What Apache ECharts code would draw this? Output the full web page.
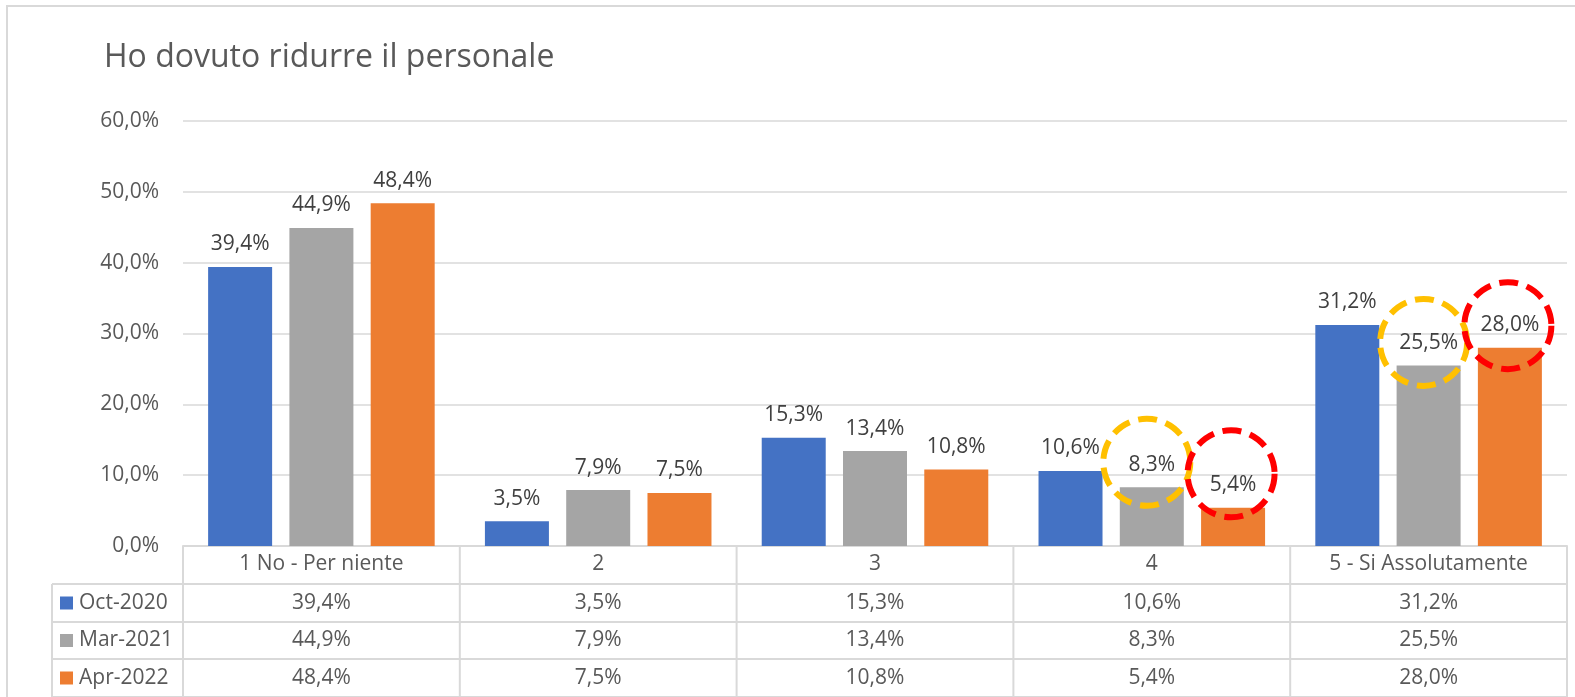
<!DOCTYPE html>
<html><head><meta charset="utf-8">
<script src="https://cdn.jsdelivr.net/npm/echarts@6/dist/echarts.min.js"></script>
<style>html,body{margin:0;padding:0;background:#fff}#c{width:1575px;height:697px}</style>
</head><body><div id="c"></div>
<script>
// ---- data ----
const titleText = 'Ho dovuto ridurre il personale';
const categories = ['1 No - Per niente', '2', '3', '4', '5 - Si Assolutamente'];
const seriesNames = ['Oct-2020', 'Mar-2021', 'Apr-2022'];
const oct2020 = [39.4, 3.5, 15.3, 10.6, 31.2];
const mar2021 = [44.9, 7.9, 13.4, 8.3, 25.5];
const apr2022 = [48.4, 7.5, 10.8, 5.4, 28.0];
const yTickValues = [0, 10, 20, 30, 40, 50, 60];
const yellowHighlight = [3, 4]; // category indices circled on Mar-2021
const redHighlight = [3, 4];    // category indices circled on Apr-2022

// ---- styling / layout ----
const colors = ['#4472C4', '#A5A5A5', '#ED7D31'];
const FONT = 'Open Sans';
const TXT = '#595959';
const LINE = '#d9d9d9';
const gridL = 183, gridR = 1567, axisY = 546, gridTop = 121;
const rowEdges = [546, 584, 622, 659, 697];
const tableLeft = 52;
const yellowOffsets = [[-5, -25], [-5, -23]];
const redOffsets = [[-2, -34], [-2, -22]];

const allSeries = [oct2020, mar2021, apr2022];
const fmt = v => v.toFixed(1).replace('.', ',') + '%';

const chart = echarts.init(document.getElementById('c'), null, {renderer: 'canvas'});

function circleMarks(vals, idxs, offs, color) {
  return {
    symbol: 'circle',
    symbolSize: 87,
    silent: true,
    label: {show: false},
    itemStyle: {color: 'rgba(0,0,0,0)', borderColor: color, borderWidth: 6, borderType: [19, 9]},
    data: idxs.map((i, k) => ({coord: [i, vals[i]], symbolOffset: offs[k]}))
  };
}

const series = seriesNames.map((name, s) => {
  const o = {
    name,
    type: 'bar',
    data: allSeries[s],
    barWidth: 64,
    barGap: '27%',
    itemStyle: {color: colors[s]},
    label: {
      show: true, position: 'top', distance: 12,
      formatter: p => fmt(p.value),
      color: '#404040', fontSize: 21, fontFamily: FONT
    }
  };
  if (s === 1) o.markPoint = circleMarks(mar2021, yellowHighlight, yellowOffsets, '#FFC000');
  if (s === 2) o.markPoint = circleMarks(apr2022, redHighlight, redOffsets, '#FF0000');
  return o;
});

// ---- data table (built from arrays) ----
const graphics = [];
const colW = (gridR - gridL) / categories.length;
// outer chart border
graphics.push({type: 'rect', shape: {x: 7, y: 6, width: 1600, height: 720}, style: {fill: 'none', stroke: LINE, lineWidth: 2}, silent: true});
// horizontal row lines
for (let r = 1; r < rowEdges.length; r++) {
  graphics.push({type: 'line', shape: {x1: tableLeft, y1: rowEdges[r], x2: gridR, y2: rowEdges[r]}, style: {stroke: LINE, lineWidth: 2}, silent: true});
}
// vertical lines for category columns
for (let c = 0; c <= categories.length; c++) {
  const x = gridL + c * colW;
  graphics.push({type: 'line', shape: {x1: x, y1: axisY, x2: x, y2: 700}, style: {stroke: LINE, lineWidth: 2}, silent: true});
}
// legend column left border
graphics.push({type: 'line', shape: {x1: tableLeft, y1: rowEdges[1], x2: tableLeft, y2: 700}, style: {stroke: LINE, lineWidth: 2}, silent: true});
// rows
seriesNames.forEach((name, s) => {
  const yc = (rowEdges[s + 1] + rowEdges[s + 2]) / 2;
  graphics.push({type: 'rect', shape: {x: 60, y: yc - 6.5, width: 13, height: 13}, style: {fill: colors[s]}, silent: true});
  graphics.push({type: 'text', x: 79, y: yc, style: {text: name, align: 'left', verticalAlign: 'middle', fontSize: 21, fontFamily: FONT, fill: TXT}, silent: true});
  allSeries[s].forEach((v, c) => {
    graphics.push({type: 'text', x: gridL + (c + 0.5) * colW, y: yc, style: {text: fmt(v), align: 'center', verticalAlign: 'middle', fontSize: 21, fontFamily: FONT, fill: TXT}, silent: true});
  });
});

chart.setOption({
  backgroundColor: '#fff',
  animation: false,
  title: {
    text: titleText, left: 99, top: 37,
    textStyle: {fontFamily: FONT, fontSize: 32, fontWeight: 'normal', color: TXT}
  },
  grid: {left: gridL, right: 1575 - gridR, top: gridTop, bottom: 697 - axisY, containLabel: false},
  xAxis: {
    type: 'category', data: categories,
    axisTick: {show: false},
    axisLine: {lineStyle: {color: LINE, width: 2}},
    axisLabel: {color: TXT, fontSize: 21, fontFamily: FONT, margin: 8, interval: 0}
  },
  yAxis: {
    type: 'value', min: yTickValues[0], max: yTickValues[yTickValues.length - 1], interval: yTickValues[1] - yTickValues[0],
    axisLine: {show: false}, axisTick: {show: false},
    splitLine: {lineStyle: {color: LINE, width: 1.5}},
    axisLabel: {color: TXT, fontSize: 21, fontFamily: FONT, margin: 24, formatter: v => fmt(v)}
  },
  series,
  graphic: graphics
});
</script>
</body></html>
